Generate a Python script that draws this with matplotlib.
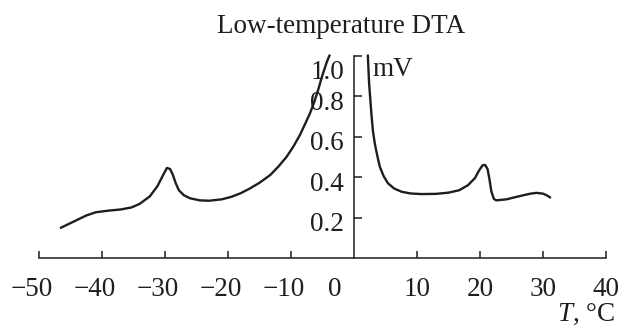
import matplotlib
matplotlib.use('Agg')
import matplotlib.pyplot as plt
from matplotlib.transforms import ScaledTranslation

plt.rcParams['font.family'] = ['Liberation Serif', 'DejaVu Serif']
plt.rcParams['mathtext.fontset'] = 'custom'
plt.rcParams['mathtext.it'] = 'Liberation Serif:italic'
plt.rcParams['mathtext.rm'] = 'Liberation Serif'

# DTA trace, cooling branch (below the off-scale peak)
t_left = [-46.5, -44.5, -42.5, -41.0, -39.0, -37.0, -35.3, -34.0, -32.4, -31.2,
          -30.3, -29.7, -29.2, -28.8, -28.3, -27.8, -27.0, -26.0, -24.5, -23.0,
          -21.0, -19.5, -18.0, -16.5, -15.0, -13.3, -12.0, -10.7, -9.6, -8.6,
          -7.8, -7.0, -6.3, -5.7, -5.0, -4.3, -3.9]
mv_left = [0.150, 0.180, 0.210, 0.226, 0.234, 0.240, 0.250, 0.268, 0.305, 0.355,
           0.410, 0.445, 0.440, 0.415, 0.370, 0.335, 0.310, 0.295, 0.285, 0.283,
           0.290, 0.302, 0.320, 0.344, 0.372, 0.410, 0.452, 0.500, 0.552, 0.607,
           0.660, 0.714, 0.772, 0.830, 0.905, 0.970, 1.000]

# branch above the peak
t_right = [2.2, 2.3, 2.4, 2.6, 2.8, 3.0, 3.3, 3.7, 4.1, 4.7, 5.4, 6.4, 7.6, 9.0,
           10.7, 13.0, 15.0, 16.7, 18.1, 19.2, 19.8, 20.4, 20.8, 21.2, 21.5, 21.8,
           22.2, 22.6, 24.2, 26.3, 28.0, 29.0, 30.0, 30.6, 31.1]
mv_right = [1.000, 0.930, 0.862, 0.780, 0.698, 0.630, 0.566, 0.505, 0.451, 0.405,
            0.369, 0.343, 0.327, 0.319, 0.316, 0.317, 0.323, 0.335, 0.360, 0.395,
            0.430, 0.458, 0.460, 0.440, 0.390, 0.330, 0.292, 0.285, 0.290, 0.306,
            0.318, 0.322, 0.318, 0.310, 0.300]

x_ticks = [-50, -40, -30, -20, -10, 10, 20, 30, 40]
x_labels = ['\u221250', '\u221240', '\u221230', '\u221220', '\u221210', '10', '20', '30', '40']
y_ticks = [0.2, 0.4, 0.6, 0.8, 1.0]
y_labels = ['0.2', '0.4', '0.6', '0.8', '1.0']

ink = '#1e1e1e'
fs = 19.5

fig = plt.figure(figsize=(6.2, 3.27), dpi=100)
ax = fig.add_axes([0.0629, 0.211, 0.9145, 0.6187])
ax.set_xlim(-50, 40)
ax.set_ylim(0, 1.0)

ax.plot(t_left, mv_left, color=ink, lw=1.7, clip_on=False)
ax.plot(t_right, mv_right, color=ink, lw=1.7, clip_on=False)

for s in ['top', 'right']:
    ax.spines[s].set_visible(False)
ax.spines['left'].set_position(('data', 0))
for s in ['left', 'bottom']:
    ax.spines[s].set_linewidth(1.1)
    ax.spines[s].set_color(ink)

ax.set_xticks(x_ticks)
ax.set_xticklabels(x_labels)
ax.set_yticks(y_ticks)
ax.set_yticklabels(y_labels)
ax.tick_params(axis='x', direction='in', length=5, width=1.1, color=ink,
               pad=14, labelsize=fs, labelcolor=ink)
ax.tick_params(axis='y', direction='in', length=5.8, width=1.1, color=ink,
               pad=7.2, labelsize=fs, labelcolor=ink)

# negative labels: digits centred on the tick, minus sign hangs left
for lab, txt in zip(ax.get_xticklabels(), x_labels):
    if txt.startswith('\u2212'):
        lab.set_transform(lab.get_transform() + ScaledTranslation(-0.07, 0, fig.dpi_scale_trans))
for lab, txt in zip(ax.get_yticklabels(), y_labels):
    dy = -0.14 if txt == '1.0' else -0.04
    lab.set_transform(lab.get_transform() + ScaledTranslation(0, dy, fig.dpi_scale_trans))

# zero sits left of the vertical axis
ax.annotate('0', xy=(0, 0), xycoords='data', xytext=(-13.5, -14),
            textcoords='offset points', ha='center', va='top', fontsize=fs, color=ink)
ax.text(3.0, 0.93, 'mV', ha='left', va='center', fontsize=fs, color=ink)

fig.text(0.55, 0.899, 'Low-temperature DTA', ha='center', va='baseline', fontsize=fs, color=ink)
fig.text(0.992, 0.018, '$T$, \u00b0C', ha='right', va='baseline', fontsize=fs, color=ink)

fig.savefig('out.png', dpi=100, facecolor='white')
